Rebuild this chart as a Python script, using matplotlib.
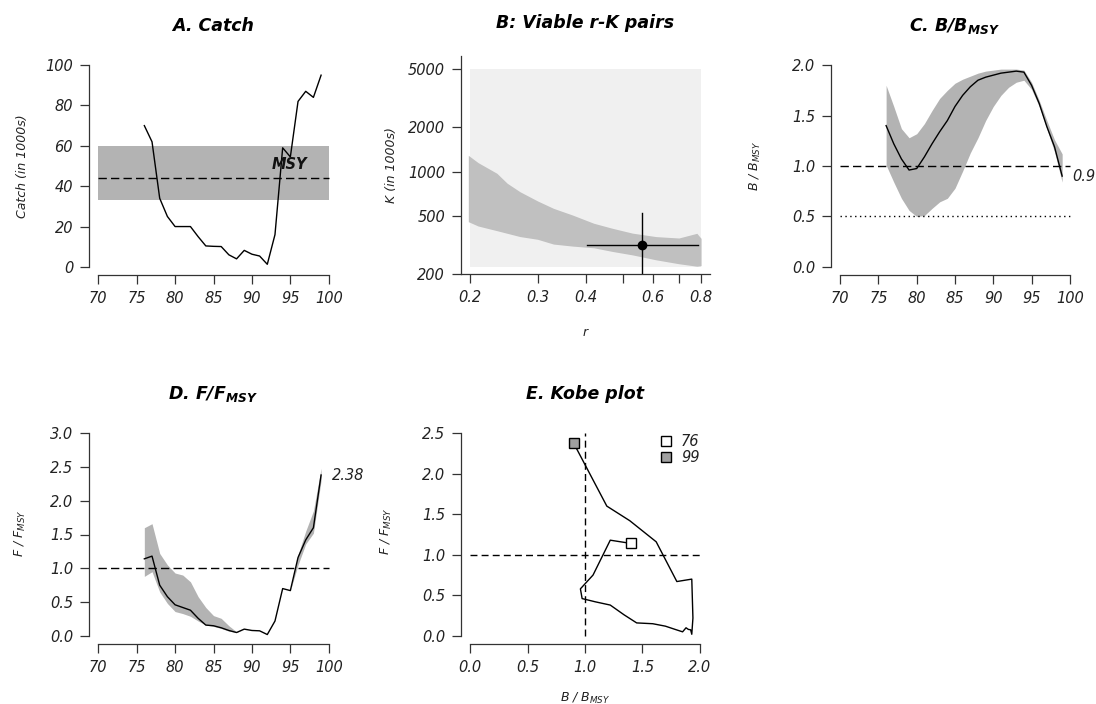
import matplotlib
matplotlib.use('Agg')
import matplotlib.pyplot as plt
from matplotlib.lines import Line2D
from matplotlib.ticker import NullLocator

plt.rcParams['font.family'] = 'DejaVu Sans'
plt.rcParams['font.style'] = 'italic'
plt.rcParams['mathtext.fontset'] = 'custom'
plt.rcParams['mathtext.rm'] = 'DejaVu Sans:italic'
plt.rcParams['mathtext.it'] = 'DejaVu Sans:italic'
plt.rcParams['mathtext.bf'] = 'DejaVu Sans:bold:italic'

# ---- data ----
years = list(range(76, 100))
catch = [70, 62, 34, 25, 20, 20, 20, 15, 10.4, 10.2, 10.1, 6, 4, 8.2, 6.3, 5.4,
         1.3, 16, 59, 54.5, 82, 87, 84, 95]
msy, msy_lo, msy_hi = 44, 33, 60

# viable r-K cloud (outline) and best estimate
r_edge = [0.198, 0.21, 0.235, 0.25, 0.27, 0.30, 0.33, 0.37, 0.42, 0.47, 0.53, 0.61, 0.70, 0.78, 0.80]
k_upper = [1290, 1150, 973, 832, 728, 630, 561, 505, 444, 410, 380, 360, 352, 379, 350]
k_lower = [455, 425, 395, 379, 360, 345, 320, 310, 302, 285, 270, 250, 235, 226, 228]
r_prior = [0.2, 0.8]
k_prior = [224, 5000]
r_hat, r_lo, r_hi = 0.561, 0.403, 0.785
k_hat, k_lo, k_hi = 316, 190, 519

bbmsy = [1.40, 1.22, 1.07, 0.96, 0.975, 1.09, 1.22, 1.34, 1.45, 1.59, 1.70, 1.785,
         1.85, 1.88, 1.90, 1.92, 1.93, 1.94, 1.93, 1.80, 1.62, 1.39, 1.19, 0.90]
b_lo = [1.01, 0.84, 0.68, 0.56, 0.50, 0.51, 0.58, 0.645, 0.68, 0.78, 0.95, 1.13,
        1.28, 1.45, 1.59, 1.70, 1.78, 1.83, 1.85, 1.76, 1.59, 1.37, 1.14, 0.84]
b_hi = [1.80, 1.59, 1.37, 1.28, 1.32, 1.42, 1.55, 1.67, 1.75, 1.82, 1.86, 1.89,
        1.92, 1.94, 1.95, 1.96, 1.96, 1.96, 1.95, 1.83, 1.65, 1.45, 1.26, 1.12]

ffmsy = [1.14, 1.18, 0.75, 0.58, 0.46, 0.42, 0.38, 0.26, 0.16, 0.15, 0.12, 0.08,
         0.05, 0.10, 0.08, 0.075, 0.02, 0.22, 0.70, 0.67, 1.16, 1.42, 1.60, 2.38]
f_lo = [0.88, 0.95, 0.65, 0.48, 0.36, 0.33, 0.29, 0.22, 0.16, 0.14, 0.11, 0.07,
        0.05, 0.10, 0.08, 0.075, 0.02, 0.22, 0.70, 0.67, 1.05, 1.36, 1.52, 2.30]
f_hi = [1.60, 1.66, 1.22, 1.05, 0.93, 0.90, 0.80, 0.58, 0.42, 0.30, 0.26, 0.15,
        0.06, 0.10, 0.08, 0.075, 0.02, 0.22, 0.70, 0.67, 1.20, 1.55, 1.85, 2.48]

W, H = 1096, 704
AX = '#333333'
TXT = '#222222'
BAND = '#b3b3b3'
TICK_FS = 10.5
LAB_FS = 9
TITLE_FS = 12.5


def box(l, t, r, b):
    return [l / W, 1 - b / H, (r - l) / W, (b - t) / H]


def rstyle(ax, xb=None, yb=None):
    for s in ['top', 'right']:
        ax.spines[s].set_visible(False)
    for s in ['left', 'bottom']:
        ax.spines[s].set_color(AX)
        ax.spines[s].set_linewidth(0.9)
    if xb:
        ax.spines['bottom'].set_bounds(*xb)
    if yb:
        ax.spines['left'].set_bounds(*yb)
    ax.tick_params(direction='out', length=6.5, width=0.9, color=AX,
                   labelsize=TICK_FS, labelcolor=TXT)
    ax.tick_params(axis='x', pad=5)
    ax.tick_params(axis='y', pad=5)


def ylab(x, y, s):
    fig.text(x / W, 1 - y / H, s, rotation=90, ha='center', va='center',
             fontsize=LAB_FS, color=TXT)


fig = plt.figure(figsize=(10.96, 7.04), dpi=100)
yr_ticks = [70, 75, 80, 85, 90, 95, 100]

# A. Catch
ax = fig.add_axes(box(89, 57, 338, 275))
ax.fill_between([70, 100], msy_lo, msy_hi, color=BAND, lw=0)
ax.plot([70, 100], [msy, msy], ls='--', dashes=(6, 3), color='k', lw=1)
ax.plot(years, catch, color='k', lw=1)
ax.text(94.9, 50.5, 'MSY', ha='center', va='center', fontsize=10.5,
        weight='bold', color='#111111')
ax.set_xlim(68.8, 101.2)
ax.set_ylim(-4, 104)
ax.set_xticks(yr_ticks)
ax.set_yticks([0, 20, 40, 60, 80, 100])
rstyle(ax, (70, 100), (0, 100))
ax.set_title('A. Catch', fontsize=TITLE_FS, weight='bold', pad=19)
ylab(23, 166, 'Catch (in 1000s)')

# B. Viable r-K pairs
ax = fig.add_axes(box(461, 56, 710, 274))
ax.set_xscale('log')
ax.set_yscale('log')
ax.fill_between(r_prior, k_prior[0], k_prior[1], color='#f0f0f0', lw=0)
ax.fill_between(r_edge, k_lower, k_upper, color='#c0c0c0', lw=0)
ax.plot([r_lo, r_hi], [k_hat, k_hat], color='k', lw=1)
ax.plot([r_hat, r_hat], [k_lo, k_hi], color='k', lw=1)
ax.plot([r_hat], [k_hat], 'o', color='k', ms=6)
ax.set_xlim(0.1895, 0.844)
ax.set_ylim(200, 6140)
ax.set_xticks([0.2, 0.3, 0.4, 0.5, 0.6, 0.7, 0.8])
ax.set_xticklabels(['0.2', '0.3', '0.4', '', '0.6', '', '0.8'])
ax.set_yticks([200, 500, 1000, 2000, 5000])
ax.set_yticklabels(['200', '500', '1000', '2000', '5000'])
ax.xaxis.set_minor_locator(NullLocator())
ax.yaxis.set_minor_locator(NullLocator())
rstyle(ax)
ax.set_title('B: Viable r-K pairs', fontsize=TITLE_FS, weight='bold', pad=20)
ylab(392, 165, 'K (in 1000s)')
fig.text(585 / W, 1 - 333 / H, 'r', ha='center', va='center', fontsize=LAB_FS, color=TXT)

# C. B/Bmsy
ax = fig.add_axes(box(831, 57, 1079, 275))
ax.fill_between(years, b_lo, b_hi, color=BAND, lw=0)
ax.plot([70, 100], [1, 1], ls='--', dashes=(6, 3), color='k', lw=1)
ax.plot([70, 100], [0.5, 0.5], ls=':', dashes=(1, 2.5), color='k', lw=1)
ax.plot(years, bbmsy, color='k', lw=1)
ax.text(100.3, bbmsy[-1], f'{round(bbmsy[-1], 2):g}', ha='left', va='center',
        fontsize=TICK_FS, color=TXT, clip_on=False)
ax.set_xlim(68.8, 101.2)
ax.set_ylim(-0.08, 2.08)
ax.set_xticks(yr_ticks)
ax.set_yticks([0, 0.5, 1.0, 1.5, 2.0])
ax.set_yticklabels(['0.0', '0.5', '1.0', '1.5', '2.0'])
rstyle(ax, (70, 100), (0, 2))
ax.set_title(r'C. $\mathbf{B/B_{MSY}}$', fontsize=TITLE_FS, weight='bold', pad=19)
ylab(755, 166, r'B / $B_{MSY}$')

# D. F/Fmsy
ax = fig.add_axes(box(89, 425, 338, 644))
ax.fill_between(years, f_lo, f_hi, color=BAND, lw=0)
ax.plot([70, 100], [1, 1], ls='--', dashes=(6, 3), color='k', lw=1)
ax.plot(years, ffmsy, color='k', lw=1)
ax.text(100.4, ffmsy[-1], f'{round(ffmsy[-1], 2):g}', ha='left', va='center',
        fontsize=TICK_FS, color=TXT, clip_on=False)
ax.set_xlim(68.8, 101.2)
ax.set_ylim(-0.12, 3.12)
ax.set_xticks(yr_ticks)
ax.set_yticks([0, 0.5, 1.0, 1.5, 2.0, 2.5, 3.0])
ax.set_yticklabels(['0.0', '0.5', '1.0', '1.5', '2.0', '2.5', '3.0'])
rstyle(ax, (70, 100), (0, 3))
ax.set_title(r'D. $\mathbf{F/F_{MSY}}$', fontsize=TITLE_FS, weight='bold', pad=19)
ylab(20, 533, r'F / $F_{MSY}$')

# E. Kobe plot
ax = fig.add_axes(box(461, 425, 709, 644))
ax.plot([1, 1], [0, 2.5], ls='--', dashes=(5, 3), color='k', lw=1)
ax.plot([0, 2], [1, 1], ls='--', dashes=(5, 3), color='k', lw=1)
ax.plot(bbmsy, ffmsy, color='k', lw=1)
ax.plot([bbmsy[0]], [ffmsy[0]], 's', ms=7, mfc='white', mec='k', mew=1)
ax.plot([bbmsy[-1]], [ffmsy[-1]], 's', ms=7, mfc='#a0a0a0', mec='k', mew=1)
handles = [Line2D([], [], marker='s', ls='', ms=7, mfc='white', mec='k', mew=1,
                  label=str(years[0])),
           Line2D([], [], marker='s', ls='', ms=7, mfc='#a0a0a0', mec='k', mew=1,
                  label=str(years[-1]))]
leg = ax.legend(handles=handles, loc='upper right', bbox_to_anchor=(0.985, 0.985),
                frameon=False, fontsize=TICK_FS, handlelength=1.0, handletextpad=0.5,
                labelspacing=0.05, borderaxespad=0)
for t in leg.get_texts():
    t.set_color(TXT)
ax.set_xlim(-0.08, 2.08)
ax.set_ylim(-0.1, 2.6)
ax.set_xticks([0, 0.5, 1.0, 1.5, 2.0])
ax.set_xticklabels(['0.0', '0.5', '1.0', '1.5', '2.0'])
ax.set_yticks([0, 0.5, 1.0, 1.5, 2.0, 2.5])
ax.set_yticklabels(['0.0', '0.5', '1.0', '1.5', '2.0', '2.5'])
rstyle(ax, (0, 2), (0, 2.5))
ax.set_title('E. Kobe plot', fontsize=TITLE_FS, weight='bold', pad=19)
ylab(386, 531, r'F / $F_{MSY}$')
fig.text(585 / W, 1 - 698 / H, r'B / $B_{MSY}$', ha='center', va='center',
         fontsize=LAB_FS, color=TXT)

fig.savefig('out.png', dpi=100)
